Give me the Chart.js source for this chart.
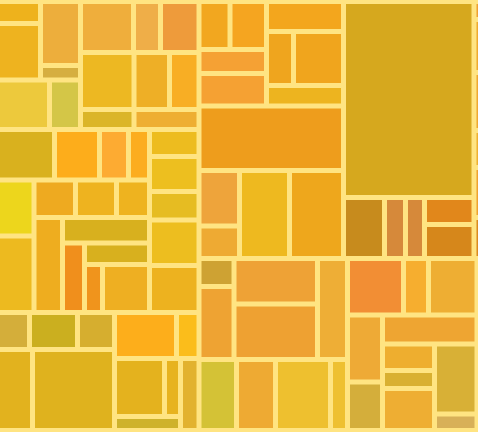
<!DOCTYPE html>
<html>
<head>
<meta charset="utf-8">
<script src="https://cdn.jsdelivr.net/npm/chart.js@4/dist/chart.umd.min.js"></script>
<style>
  html, body { margin: 0; padding: 0; background: #FFE482; }
  #wrap { width: 478px; height: 432px; }
  canvas { display: block; background: #FFE482; }
</style>
</head>
<body>
<div id="wrap"><canvas id="c" width="478" height="432"></canvas></div>
<script>
// ---- data: leaf values (area weights) ----
const cellValues = [
  946, 2430, 2560, 580, 2574, 1535,
  2703, 1377, 1964, 3050, 2024, 1682, 1070, 1300,
  2879, 2273, 1465, 1061, 2044, 2792, 1556, 1538, 1238, 2708, 2219, 1529, 1398, 864, 2256,
  1337, 1733, 1411, 2252, 2327,
  1184, 1776, 1369, 2835, 6642, 2852, 1035, 2900, 928, 924, 1332,
  1488, 1752, 1620, 2194, 2310, 1458, 2700, 1579, 9320,
  2248, 1316, 4400, 4752,
  25578, 2501, 1281, 1159, 1337, 1683,
  468, 1378, 1508, 962, 1300, 1066,
  980, 2555, 3799, 4634, 3030,
  2663, 2769, 3905, 1207,
  3164, 1413, 2740, 2345, 1698, 2741, 1378, 936, 2184, 2975, 701,
  3956
];
const cellLabels = cellValues.map((v, i) => 'Item ' + (i + 1));

// ---- grouping (split direction + member leaf indices) ----
const nesting = ['h',
  ['v',
    ['h',
      ['v', ['h', ['v', 0, 1], ['v', 2, 3]], ['h', 4, 5]],
      ['v', ['h', 6, 7, 8], ['h', 9, 10, 11], ['h', 12, 13]]
    ],
    ['h',
      ['v', ['h', 14, 15, 16, 17],
            ['h', ['v', 18, 19],
                  ['v', ['h', 20, 21, 22],
                        ['h', 23, ['v', 24, ['h', 25, ['v', 26, ['h', 27, 28]]]]]]]],
      ['v', 29, 30, 31, 32, 33]
    ],
    ['h',
      ['v', ['h', 34, 35, 36], ['h', 37, 38]],
      ['v', ['h', 39, 40], ['h', ['v', ['h', 41, 42], 43], 44]]
    ]
  ],
  ['v',
    ['h',
      ['v',
        ['v', ['h', ['v', ['h', 45, 46], 47, 48], ['v', 49, ['h', 50, 51], 52]], 53],
        ['h', ['v', 54, 55], 56, 57]
      ],
      ['v', 58, ['h', 59, 60, 61, ['v', 62, 63]]],
      ['v', 64, 65, 66, 67, 68, 69]
    ],
    ['h',
      ['v', ['h', ['v', 70, 71], ['v', 72, 73], 74], ['h', 75, 76, 77, 78]],
      ['v', ['h', 79, 80, 81], ['h', ['v', 82, 83], ['v', 84, ['h', ['v', 85, 86, 87], ['v', 88, 89]]]]],
      90
    ]
  ]
];

// ---- styles ----
const cellColors = [
  '#EEB21C', '#EEB31F', '#EDAE3C', '#D6AE40', '#EDC93C', '#D4C647',
  '#EFAE3C', '#EFAE48', '#EE9B3B', '#EDB822', '#EEAF26', '#F8AE24', '#DBB528', '#EEAE32',
  '#D9B11E', '#FDAD1B', '#FDAB32', '#FCAD1F', '#EDD61C', '#EDBA1F', '#EEAA20', '#EEB31F', '#EEB31F',
  '#EEAD1F', '#D8B01E', '#F08F1C', '#D8B01E', '#F0941C', '#EEAF22',
  '#EDBC1F', '#EDBF1F', '#E6BC22', '#EDBE1F', '#EDB21F',
  '#D4AE3A', '#CBAF1F', '#D6AE2F', '#E2B21E', '#DFB21E', '#FDAE1B', '#FBBD1B', '#E4B21E', '#E7B31F', '#CEB22B', '#E2B22F',
  '#F2A71F', '#F5A520', '#F5A134', '#F5A133', '#F3A61D', '#EFA51E', '#F0A51D', '#EDB41F', '#EE9D1C',
  '#EEA43B', '#EEAA33', '#EEB91F', '#EEA71C',
  '#D6A81E', '#C78B1D', '#D6893A', '#D6893A', '#E1871B', '#D6871B',
  '#EEA030', '#EEAA2E', '#EEA830', '#EEB030', '#EEA22E', '#DA8A1E',
  '#CEA233', '#EEA333', '#EEA236', '#EEA132', '#EEAE36',
  '#D4C236', '#EEAA33', '#EEC02F', '#EEC031',
  '#F28E34', '#F6AE2F', '#EEAE33', '#EEAA36', '#D4AE3B', '#EEA532', '#EEAE2F', '#D9B031', '#EEAE33', '#D8B036', '#D8B058',
  '#EEA832'
];
const rootExtent = { x0: -2.5, y0: 1.5, x1: 500, y1: 430.5 };
const cellInset = 2.5;

function sumNode(n, vals) {
  if (typeof n === 'number') return vals[n];
  let s = 0;
  for (let i = 1; i < n.length; i++) s += sumNode(n[i], vals);
  return s;
}
function layoutNode(n, vals, x0, y0, x1, y1, out) {
  if (typeof n === 'number') { out[n] = { x0, y0, x1, y1 }; return; }
  const dir = n[0];
  const total = sumNode(n, vals);
  const span = dir === 'h' ? x1 - x0 : y1 - y0;
  let pos = dir === 'h' ? x0 : y0;
  for (let i = 1; i < n.length; i++) {
    const len = span * sumNode(n[i], vals) / total;
    if (dir === 'h') layoutNode(n[i], vals, pos, y0, pos + len, y1, out);
    else layoutNode(n[i], vals, x0, pos, x1, pos + len, out);
    pos += len;
  }
}

class TreemapController extends Chart.DatasetController {
  parse() {}
  update(mode) {
    const meta = this._cachedMeta;
    this.updateElements(meta.data, 0, meta.data.length, mode);
  }
  updateElements(elements, start, count, mode) {
    const ds = this.getDataset();
    const xs = this._cachedMeta.xScale;
    const ys = this._cachedMeta.yScale;
    const rects = [];
    const e = ds.extent;
    layoutNode(ds.tree, ds.data, e.x0, e.y0, e.x1, e.y1, rects);
    const inset = ds.inset;
    for (let i = start; i < start + count; i++) {
      const r = rects[i];
      const left = xs.getPixelForValue(r.x0 + inset);
      const right = xs.getPixelForValue(r.x1 - inset);
      const top = ys.getPixelForValue(r.y0 + inset);
      const bottom = ys.getPixelForValue(r.y1 - inset);
      const props = {
        x: (left + right) / 2,
        y: top,
        base: bottom,
        width: right - left,
        height: bottom - top,
        horizontal: false,
        borderSkipped: {},
        enableBorderRadius: false,
        inflateAmount: 0,
        options: this.resolveDataElementOptions(i, mode)
      };
      this.updateElement(elements[i], i, props, mode);
    }
  }
}
TreemapController.id = 'treemapcells';
TreemapController.defaults = { datasetElementType: false, dataElementType: 'bar' };
Chart.register(TreemapController);

new Chart(document.getElementById('c'), {
  type: 'treemapcells',
  data: {
    labels: cellLabels,
    datasets: [{
      data: cellValues,
      tree: nesting,
      extent: rootExtent,
      inset: cellInset,
      backgroundColor: cellColors,
      borderWidth: 0,
      borderRadius: 0
    }]
  },
  options: {
    responsive: false,
    animation: false,
    events: [],
    layout: { padding: 0 },
    scales: {
      x: { type: 'linear', min: 0, max: 478, bounds: 'data', display: false },
      y: { type: 'linear', min: 0, max: 432, bounds: 'data', reverse: true, display: false }
    },
    plugins: { legend: { display: false }, tooltip: { enabled: false }, title: { display: false } }
  }
});
</script>
</body>
</html>
